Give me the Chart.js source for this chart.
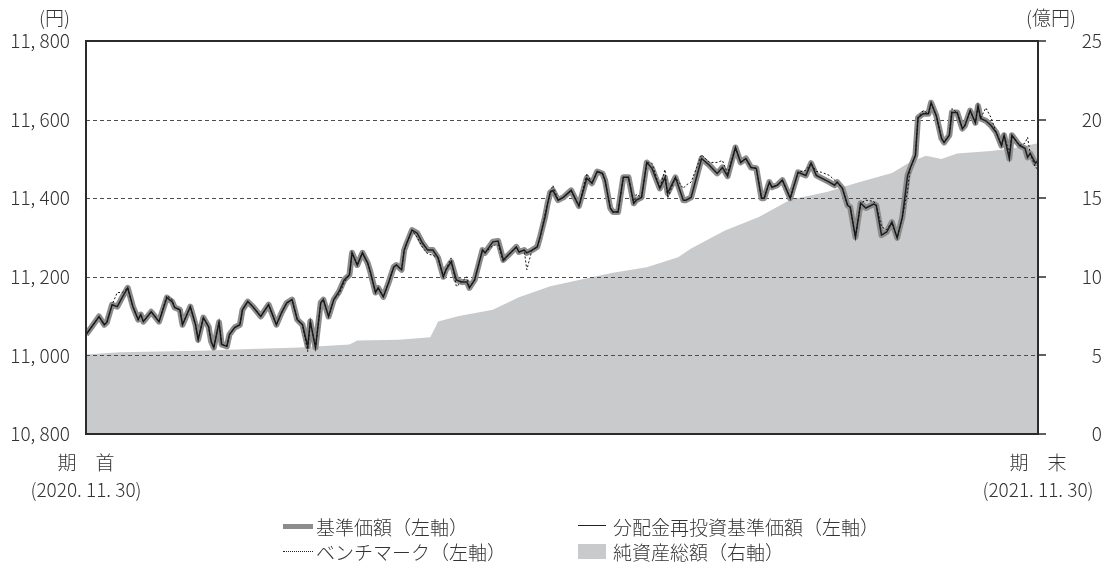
<!DOCTYPE html>
<html lang="ja">
<head>
<meta charset="utf-8">
<script src="https://cdn.jsdelivr.net/npm/chart.js@4.4.0/dist/chart.umd.min.js"></script>
<style>
  body { margin: 0; background: #fff; font-family: 'Noto Sans CJK JP', sans-serif; font-weight: 300; color: #333; }
  #wrap { position: relative; width: 1102px; height: 565px; }
  #wrap canvas { position: absolute; left: 0; top: 0; }
  .t { position: absolute; font-size: 19px; line-height: 1; white-space: nowrap; transform: translate(-50%, -50%); }
  .r { transform: translate(-100%, -50%); }
  .l { transform: translate(0, -50%); }
  .sw { position: absolute; }
</style>
</head>
<body>
<div id="wrap">
  <canvas id="chart" width="1102" height="565"></canvas>
  <div class="t r" style="left:70px; top:16px;">(円)</div>
  <div class="t r" style="left:1076px; top:16px;">(億円)</div>
  <div class="t" style="left:86px; top:461px;">期　首</div>
  <div class="t" style="left:86px; top:488px;">(2020. 11. 30)</div>
  <div class="t" style="left:1038px; top:461px;">期　末</div>
  <div class="t" style="left:1038px; top:488px;">(2021. 11. 30)</div>

  <div class="sw" style="left:283px; top:524px; width:30px; height:5px; background:#8c8c8c;"></div>
  <div class="t l" style="left:316px; top:526px;">基準価額（左軸）</div>
  <div class="sw" style="left:578px; top:525px; width:28px; height:0; border-top:1.5px solid #222;"></div>
  <div class="t l" style="left:613px; top:526px;">分配金再投資基準価額（左軸）</div>
  <div class="sw" style="left:283px; top:551px; width:30px; height:0; border-top:1px dotted #222;"></div>
  <div class="t l" style="left:316px; top:551px;">ベンチマーク（左軸）</div>
  <div class="sw" style="left:578px; top:544px; width:28px; height:15px; background:#c9cacc;"></div>
  <div class="t l" style="left:613px; top:551px;">純資産総額（右軸）</div>
</div>
<script>
// days from 2020/11/30
const days = [0,2,5,7,8,10,12,14,16,18,
  20,21,22,25,28,31,33,34,36,37,
  40,42,43,45,47,48,49,51,52,54,
  55,57,59,60,62,64,67,70,73,75,
  77,79,81,83,85,86,88,90,91,93,
  95,97,99,101,102,104,106,108,109,111,
  112,114,116,118,119,121,122,123,125,127,
  129,131,133,135,137,138,140,142,144,146,
  147,149,152,153,156,158,160,162,165,166,
  168,169,171,173,174,176,177,178,179,181,
  183,186,189,192,194,196,198,199,201,202,
  204,206,208,210,211,213,215,217,220,222,
  223,226,229,230,232,236,239,242,244,246,
  249,251,253,255,257,259,260,262,263,265,
  267,270,273,276,278,280,282,285,287,288,
  290,292,293,295,297,299,302,303,305,307,
  309,311,313,315,316,318,319,321,323,324,
  326,328,329,331,332,334,336,337,339,341,
  342,343,345,347,349,351,352,354,355,357,
  358,360,361,362,364,365];

// 基準価額 (= 分配金再投資基準価額)
const basePrice = [11053,11071,11099,11078,11084,11129,11124,11149,11172,11124,
  11091,11104,11086,11111,11086,11147,11137,11122,11116,11078,
  11124,11078,11040,11096,11073,11035,11020,11084,11028,11023,
  11053,11071,11078,11116,11137,11124,11099,11129,11078,11109,
  11134,11142,11091,11078,11023,11086,11020,11134,11142,11099,
  11142,11162,11192,11205,11261,11230,11261,11235,11213,11160,
  11172,11149,11185,11225,11230,11218,11268,11286,11319,11311,
  11286,11268,11268,11248,11200,11218,11238,11192,11187,11187,
  11172,11192,11268,11261,11289,11291,11243,11256,11276,11263,
  11268,11261,11268,11276,11299,11352,11387,11415,11420,11395,
  11402,11420,11380,11451,11438,11468,11463,11446,11375,11365,
  11365,11453,11453,11387,11395,11402,11491,11476,11425,11453,
  11413,11453,11395,11395,11402,11501,11484,11463,11478,11456,
  11529,11491,11501,11478,11476,11400,11400,11441,11428,11433,
  11446,11400,11466,11458,11489,11458,11451,11441,11433,11441,
  11425,11382,11377,11301,11387,11375,11385,11382,11306,11314,
  11339,11299,11352,11458,11476,11509,11605,11615,11615,11643,
  11610,11552,11542,11560,11618,11618,11577,11585,11623,11592,
  11635,11603,11597,11585,11567,11534,11560,11501,11560,11542,
  11534,11527,11504,11514,11489,11496];

const benchmark = [11053,11071,11099,11078,11084,11129,11160,11160,11172,11124,
  11091,11104,11086,11111,11086,11152,11142,11122,11116,11078,
  11124,11078,11040,11096,11073,11035,11020,11084,11028,11023,
  11053,11071,11078,11116,11137,11124,11099,11129,11078,11109,
  11134,11142,11091,11078,11010,11086,11020,11134,11142,11099,
  11142,11155,11185,11205,11261,11230,11261,11235,11213,11160,
  11172,11149,11185,11225,11230,11218,11268,11286,11319,11300,
  11275,11258,11255,11248,11200,11218,11248,11175,11187,11200,
  11172,11192,11268,11261,11280,11282,11238,11256,11276,11263,
  11268,11218,11268,11276,11299,11360,11387,11415,11433,11395,
  11402,11420,11380,11463,11438,11468,11463,11446,11375,11365,
  11365,11453,11453,11387,11410,11402,11491,11489,11425,11473,
  11400,11453,11425,11433,11441,11511,11491,11491,11496,11463,
  11529,11491,11501,11478,11476,11400,11400,11441,11428,11433,
  11446,11400,11466,11471,11489,11468,11466,11458,11446,11441,
  11425,11382,11377,11301,11387,11395,11392,11382,11327,11320,
  11339,11299,11352,11420,11476,11509,11605,11623,11615,11643,
  11610,11552,11542,11560,11628,11618,11577,11585,11623,11592,
  11635,11603,11630,11605,11567,11534,11560,11515,11560,11542,
  11534,11540,11555,11514,11478,11475];

// 純資産総額 (億円)
const assetDays = [0,13,28,44,63,82,101,104,120,132,134,135,143,156,166,178,189,202,215,227,232,245,258,270,284,296,309,316,322,328,334,347,356,365];
const netAssets = [5.06,5.2,5.25,5.3,5.4,5.5,5.7,5.95,6.0,6.15,6.8,7.15,7.5,7.9,8.7,9.4,9.8,10.25,10.6,11.25,11.8,12.95,13.8,14.9,15.4,16.0,16.6,17.3,17.7,17.5,17.85,18.0,18.2,18.5];

const leftTicks = [10800, 11000, 11200, 11400, 11600, 11800];
const rightTicks = [0, 5, 10, 15, 20, 25];

const fmt = v => String(v).replace(/(\d)(\d{3})$/, '$1, $2');
const pts = (xs, ys) => xs.map((x, i) => ({ x: x, y: ys[i] }));
const tickFont = { family: "'Noto Sans CJK JP', sans-serif", size: 19, weight: 300 };

const framePlugin = {
  id: 'frame',
  afterDatasetDraw(chart, args) {
    if (args.index !== 0) return;
    // dashed grid over the area, under the lines
    const { ctx, chartArea: a } = chart;
    const yL = chart.scales.yL;
    ctx.save();
    ctx.strokeStyle = '#4d4d4d';
    ctx.lineWidth = 1.2;
    ctx.setLineDash([4, 3]);
    leftTicks.slice(1, -1).forEach(v => {
      const y = Math.round(yL.getPixelForValue(v)) + 0.5;
      ctx.beginPath();
      ctx.moveTo(a.left, y);
      ctx.lineTo(a.right, y);
      ctx.stroke();
    });
    ctx.restore();
  },
  afterDraw(chart) {
    const { ctx, chartArea: a } = chart;
    const yR = chart.scales.yR;
    ctx.save();
    ctx.strokeStyle = '#2b2b2b';
    ctx.lineWidth = 2;
    ctx.strokeRect(a.left, a.top, a.right - a.left, a.bottom - a.top);
    ctx.lineWidth = 1.5;
    rightTicks.forEach(v => {
      const y = Math.round(yR.getPixelForValue(v));
      ctx.beginPath();
      ctx.moveTo(a.right, y);
      ctx.lineTo(a.right + 8, y);
      ctx.stroke();
    });
    ctx.restore();
  }
};

new Chart(document.getElementById('chart'), {
  type: 'line',
  data: {
    datasets: [
      {
        label: '純資産総額（右軸）',
        data: pts(assetDays, netAssets),
        yAxisID: 'yR',
        fill: 'origin',
        backgroundColor: '#c9cacc',
        borderWidth: 0,
        pointRadius: 0,
        order: 3
      },
      {
        label: '基準価額（左軸）',
        data: pts(days, basePrice),
        yAxisID: 'yL',
        borderColor: '#8c8c8c',
        borderWidth: 6,
        borderJoinStyle: 'round',
        pointRadius: 0,
        order: 2
      },
      {
        label: '分配金再投資基準価額（左軸）',
        data: pts(days, basePrice),
        yAxisID: 'yL',
        borderColor: '#1e1e1e',
        borderWidth: 1.5,
        pointRadius: 0,
        order: 1
      },
      {
        label: 'ベンチマーク（左軸）',
        data: pts(days, benchmark),
        yAxisID: 'yL',
        borderColor: '#111',
        borderWidth: 1,
        borderDash: [2, 2],
        pointRadius: 0,
        order: 0
      }
    ]
  },
  options: {
    responsive: false,
    animation: false,
    layout: { padding: { top: 41, bottom: 131, left: 0, right: 0 } },
    scales: {
      x: { type: 'linear', min: 0, max: 365, display: false },
      yL: {
        position: 'left',
        min: 10800,
        max: 11800,
        afterBuildTicks: s => { s.ticks = leftTicks.map(v => ({ value: v })); },
        afterFit: s => { s.width = 86; },
        grid: { display: false, drawTicks: false },
        border: { display: false },
        ticks: { callback: v => fmt(v), font: tickFont, color: '#333', padding: 16 }
      },
      yR: {
        position: 'right',
        min: 0,
        max: 25,
        afterBuildTicks: s => { s.ticks = rightTicks.map(v => ({ value: v })); },
        afterFit: s => { s.width = 64; },
        grid: { display: false, drawTicks: false },
        border: { display: false },
        ticks: { font: tickFont, color: '#333', padding: 14, crossAlign: 'far' }
      }
    },
    plugins: {
      legend: { display: false },
      tooltip: { enabled: false }
    }
  },
  plugins: [framePlugin]
});
</script>
</body>
</html>
